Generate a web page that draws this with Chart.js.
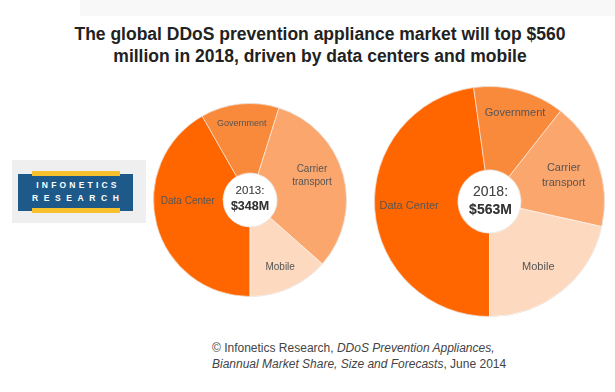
<!DOCTYPE html>
<html lang="en">
<head>
    <meta charset="UTF-8">
    <title>DDoS prevention appliance market</title>
    <script src="https://cdn.jsdelivr.net/npm/chart.js"></script>
    <style>
        body { margin: 0; width: 615px; height: 392px; background: #fff; position: relative; overflow: hidden;
               font-family: "Liberation Sans", Arial, sans-serif; }
        #topband { position: absolute; left: 80px; top: 0; width: 535px; height: 16px; background: #f8f8f8; }
        #title { position: absolute; left: 0; width: 640px; top: 23px; text-align: center;
                 font-weight: bold; font-size: 17.5px; line-height: 22px; color: #222; }
        #logo { position: absolute; left: 12px; top: 160px; width: 134px; height: 63px; background: #efefef; }
        #logo .blue { position: absolute; left: 6px; top: 14px; width: 115px; height: 37px; background: #1d5a8a; }
        #logo .bar { position: absolute; left: 20px; width: 88px; height: 5px; background: #f6c12c; }
        #logo .txt { position: absolute; left: 20px; width: 92px; color: #fff; font-weight: bold; font-size: 8.5px;
                     text-align: center; }
        #footer { position: absolute; left: 212px; top: 340px; font-size: 12px; line-height: 16px; color: #444; }
        canvas.pie { position: absolute; filter: drop-shadow(0.5px 0.5px 0.6px rgba(0,0,0,0.25)); }
        #pie2013 { left: 153px; top: 103px; }
        #pie2018 { left: 374px; top: 86px; }
    </style>
</head>
<body>
    <div id="topband"></div>
    <div id="title">The global DDoS prevention appliance market will top $560<br>million in 2018, driven by data centers and mobile</div>

    <div id="logo">
        <div class="blue"></div>
        <div class="bar" style="top: 11px;"></div>
        <div class="bar" style="top: 48px;"></div>
        <div class="txt" style="top: 20px; letter-spacing: 3.2px;">INFONETICS</div>
        <div class="txt" style="top: 33px; letter-spacing: 5.6px;">RESEARCH</div>
    </div>

    <canvas id="pie2013" class="pie" width="194" height="194"></canvas>
    <canvas id="pie2018" class="pie" width="231" height="231"></canvas>

    <div id="footer">© Infonetics Research, <i>DDoS Prevention Appliances,</i><br><i>Biannual Market Share, Size and Forecasts</i>, June 2014</div>

    <script>
        // segments, clockwise from 6 o'clock
        const categories = ['Data Center', 'Government', ['Carrier', 'transport'], 'Mobile'];
        const share2013 = [41.8, 13.1, 31.7, 13.5];   // % of $348M
        const share2018 = [47.8, 12.8, 17.9, 21.5];   // % of $563M
        const years = ['2013:', '2018:'];
        const totals = ['$348M', '$563M'];
        const colors = ['#ff6600', '#f98a3c', '#fba66c', '#fdd9bf'];

        const FONT = '"Liberation Sans", Arial, sans-serif';

        // slice names + year/total in the hole
        const pieText = {
            id: 'pieText',
            afterDatasetsDraw(chart, args, opts) {
                const ctx = chart.ctx;
                const arcs = chart.getDatasetMeta(0).data;
                ctx.save();
                ctx.textAlign = 'center';
                ctx.textBaseline = 'middle';
                ctx.fillStyle = '#555';
                arcs.forEach((arc, i) => {
                    const p = arc.getProps(['x', 'y', 'startAngle', 'endAngle', 'outerRadius'], true);
                    const n = opts.nudge[i];
                    const a = (p.startAngle + p.endAngle) / 2 + n.da * Math.PI / 180;
                    const r = p.outerRadius * n.r;
                    const cx = p.x + r * Math.cos(a), cy = p.y + r * Math.sin(a);
                    const lines = [].concat(chart.data.labels[i]);
                    ctx.font = (n.size || opts.size) + 'px ' + FONT;
                    lines.forEach((t, k) => {
                        ctx.fillText(t, cx, cy + (k - (lines.length - 1) / 2) * opts.lineH);
                    });
                });
                const c = arcs[0];
                ctx.fillStyle = '#444';
                ctx.font = opts.yearSize + 'px ' + FONT;
                ctx.fillText(opts.year, c.x + opts.dx, c.y + opts.yearDy);
                ctx.fillStyle = '#333';
                ctx.font = 'bold ' + opts.totalSize + 'px ' + FONT;
                ctx.fillText(opts.total, c.x + opts.dx, c.y + opts.totalDy);
                ctx.restore();
            }
        };

        function makePie(id, values, cutout, textOpts) {
            return new Chart(document.getElementById(id), {
                type: 'doughnut',
                data: {
                    labels: categories,
                    datasets: [{
                        data: values,
                        backgroundColor: colors,
                        borderColor: 'rgba(255,255,255,0.55)',
                        borderWidth: 1
                    }]
                },
                options: {
                    responsive: false,
                    animation: false,
                    rotation: 180,
                    cutout: cutout,
                    layout: { padding: 0 },
                    plugins: {
                        legend: { display: false },
                        tooltip: { enabled: false },
                        pieText: textOpts
                    }
                },
                plugins: [pieText]
            });
        }

        makePie('pie2013', share2013, '28%', {
            year: years[0], total: totals[0],
            size: 10, lineH: 13, yearSize: 11.5, totalSize: 12.5,
            dx: 0, yearDy: -9, totalDy: 7,
            nudge: [{ da: 14, r: 0.645 }, { da: 0, r: 0.8, size: 9 }, { da: -6, r: 0.69 }, { da: 0, r: 0.76 }]
        });

        makePie('pie2018', share2018, '27.5%', {
            year: years[1], total: totals[1],
            size: 11, lineH: 15, yearSize: 14, totalSize: 14,
            dx: 1, yearDy: -9, totalDy: 9,
            nudge: [{ da: 1, r: 0.7 }, { da: 1, r: 0.8 }, { da: 0, r: 0.685 }, { da: 2, r: 0.71 }]
        });
    </script>
</body>
</html>
